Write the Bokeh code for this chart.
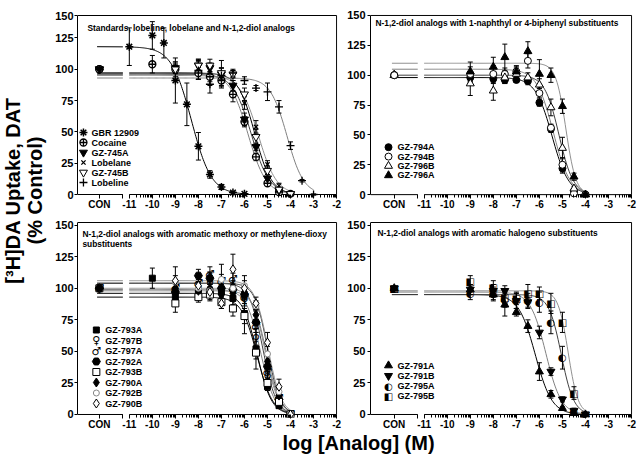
import numpy as np
from bokeh.plotting import figure
from bokeh.models import Range1d, FixedTicker, CustomJSTickFormatter, Label
from bokeh.layouts import row, column
from bokeh.embed import file_html
from bokeh.resources import INLINE
from bokeh.core.properties import value

# ======================= DATA =======================
CON = "CON"   # control (no analog)

# --- Panel A ---
A_TITLE = ["Standards, lobeline, lobelane and N-1,2-diol analogs"]
A_NAMES = ["GBR 12909", "Cocaine", "GZ-745A", "Lobelane", "GZ-745B", "Lobeline"]
A_X = [
    [CON, -11, -10, -9.5, -9, -8.5, -8, -7.5, -7, -6.5, -6],
    [CON, -10, -9, -8, -7.5, -7, -6.5, -6, -5.5, -5, -4.5, -4],
    [CON, -9, -8, -7.5, -7, -6.5, -6, -5.5, -5, -4.5, -4],
    [CON, -9, -8, -7.5, -7, -6.5, -6, -5.5, -5, -4.5, -4],
    [CON, -9, -8, -7.5, -7, -6.5, -6, -5.5, -5, -4.5, -4],
    [CON, -8, -7.5, -7, -6.5, -6, -5.5, -5, -4.5, -4, -3.5, -3],
]
A_Y = [
    [100, 118, 127, 121, 91, 72, 38.5, 16, 6, 1.5, 0.5],
    [100, 104, 100, 97, 94, 91, 80, 58, 30, 9, 2, 0.5],
    [100, 101, 103, 101, 96, 87, 60, 38, 13, 3, 0.5],
    [100, 98, 100, 97, 93, 95, 73, 54, 24, 7, 0.5],
    [100, 100, 103, 103, 97, 96, 80, 46, 19, 4, 0.5],
    [100, 99, 88, 95, 97, 91, 85, 82, 70, 39, 11, 0],
]
A_ERR = [
    [1, 15, 11, 12, 18, 17, 11, 3, 2, 1, 0.5],
    [1, 7, 3, 5, 7, 5, 6, 4, 3, 2, 1, 0.5],
    [1, 4, 4, 4, 5, 4, 5, 3, 3, 1, 0.5],
    [1, 6, 8, 7, 8, 4, 5, 5, 3, 2, 0.5],
    [1, 6, 5, 5, 10, 3, 5, 6, 3, 1, 0.5],
    [1, 7, 7, 6, 3, 3, 2, 7, 5, 3, 1, 0.5],
]
A_TOP = [118, 97, 96, 95, 97, 93]
A_LOGIC50 = [-8.3, -5.85, -5.7, -5.4, -5.55, -4.15]
A_HILL = [1.0, 1.1, 1.1, 1.1, 1.2, 1.2]

# --- Panel B ---
B_TITLE = ["N-1,2-diol analogs with 1-naphthyl or 4-biphenyl substituents"]
B_NAMES = ["GZ-794A", "GZ-794B", "GZ-796B", "GZ-796A"]
B_XS = [CON, -9, -8, -7.5, -7, -6.5, -6, -5.5, -5, -4.5, -4]
B_X = [B_XS, B_XS, B_XS, B_XS]
B_Y = [
    [100, 98, 97, 96, 96, 95, 77, 55, 22, 3, 0],
    [100, 101, 101, 101, 103, 112, 85, 56, 25, 1, 0],
    [100, 93, 87, 98, 101, 98, 92, 73, 39, 5, 0],
    [100, 103, 107, 115, 103, 120, 101, 100, 74, 15, 0],
]
B_ERR = [
    [1, 4, 4, 3, 2, 3, 3, 3, 4, 1, 0.5],
    [1, 6, 7, 5, 4, 6, 4, 3, 6, 1, 0.5],
    [1, 10, 8, 5, 5, 4, 5, 7, 9, 2, 0.5],
    [1, 8, 8, 11, 5, 8, 12, 6, 6, 3, 0.5],
]
B_TOP = [98, 105, 100, 110]
B_LOGIC50 = [-5.45, -5.4, -5.15, -4.85]
B_HILL = [1.2, 1.2, 1.4, 2.0]

# --- Panel C ---
C_TITLE = ["N-1,2-diol analogs with aromatic methoxy or methylene-dioxy", "substituents"]
C_NAMES = ["GZ-793A", "GZ-797B", "GZ-797A", "GZ-792A", "GZ-793B", "GZ-790A", "GZ-792B", "GZ-790B"]
C_XS = [CON, -9, -8, -7.5, -7, -6.5, -6, -5.5, -5, -4.5, -4]
C_X = [[CON, -10, -9, -8, -7.5, -7, -6.5, -6, -5.5, -5, -4.5, -4]] + [C_XS] * 7
C_Y = [
    [100, 108, 93, 96, 97, 97, 92, 80, 52, 22, 7, 0],
    [100, 98, 100, 104, 98, 96, 90, 60, 29, 8, 0],
    [100, 100, 104, 111, 105, 107, 93, 70, 33, 13, 0],
    [100, 97, 110, 108, 100, 99, 95, 73, 38, 12, 0],
    [100, 88, 93, 95, 89, 84, 78, 49, 25, 10, 0],
    [100, 100, 98, 100, 95, 96, 97, 79, 42, 15, 0],
    [100, 105, 100, 98, 107, 100, 102, 86, 48, 18, 0],
    [100, 106, 102, 97, 88, 115, 100, 88, 57, 22, 0],
]
C_ERR = [
    [1, 8, 5, 4, 4, 4, 5, 16, 16, 3, 2, 0.5],
    [1, 5, 5, 8, 5, 5, 4, 5, 4, 2, 0.5],
    [1, 5, 5, 6, 6, 5, 5, 5, 5, 3, 0.5],
    [1, 4, 5, 5, 6, 5, 4, 5, 4, 3, 0.5],
    [1, 7, 4, 5, 5, 6, 6, 5, 4, 2, 0.5],
    [1, 5, 5, 6, 4, 6, 5, 4, 5, 3, 0.5],
    [1, 5, 5, 5, 12, 6, 8, 4, 6, 3, 0.5],
    [1, 11, 5, 6, 4, 12, 6, 5, 8, 6, 0.5],
]
C_TOP = [96, 99, 104, 100, 93, 98, 104, 106]
C_LOGIC50 = [-5.45, -5.3, -5.2, -5.1, -5.45, -5.05, -5.0, -4.98]
C_HILL = [1.4, 1.4, 1.5, 1.5, 1.3, 1.5, 1.6, 1.5]

# --- Panel D ---
D_TITLE = ["N-1,2-diol analogs with aromatic halogeno substituents"]
D_NAMES = ["GZ-791A", "GZ-791B", "GZ-795A", "GZ-795B"]
D_XS = [CON, -9, -8, -7.5, -7, -6.5, -6, -5.5, -5, -4.5, -4]
D_X = [D_XS, D_XS, D_XS, D_XS]
D_Y = [
    [100, 99, 95, 87, 81, 70, 34, 16, 5, 1, 0],
    [100, 99, 98, 98, 90, 89, 65, 34, 12, 3, 0],
    [100, 96, 96, 91, 90, 90, 89, 73, 45, 2, 0],
    [100, 105, 101, 93, 92, 96, 96, 88, 73, 17, 0],
]
D_ERR = [
    [1, 4, 5, 9, 3, 5, 7, 3, 1, 1, 0.5],
    [1, 4, 5, 4, 6, 4, 5, 3, 2, 2, 0.5],
    [1, 5, 5, 6, 6, 6, 8, 9, 9, 1, 0.5],
    [1, 5, 5, 5, 5, 7, 5, 8, 8, 5, 0.5],
]
D_TOP = [95, 97, 95, 98]
D_LOGIC50 = [-6.18, -5.72, -5.05, -4.75]
D_HILL = [1.2, 1.3, 1.6, 2.0]

Y_TICKS = [0, 25, 50, 75, 100, 125, 150]
X_TICKS = [-11, -10, -9, -8, -7, -6, -5, -4, -3, -2]

# ======================= STYLE / LAYOUT =======================
FONT = "Liberation Sans"
SYM_FONT = "DejaVu Sans"

CON_X = -12.3      # axis position of the control category
BREAK_LO = -11.28  # end of control segment of the broken axis
BREAK_HI = -11.0   # start of log segment
X_MAX = -2.0
X_HI = -1.96

STYLES = {
    "GBR 12909": dict(marker="asterisk", size=8, fill=None, line="black", lw=1.5),
    "Cocaine": dict(marker="circle_cross", size=7, fill="white", line="black", lw=1.3),
    "GZ-745A": dict(marker="inverted_triangle", size=8, fill="black", line="black", lw=1),
    "Lobelane": dict(marker="x", size=6, fill=None, line="black", lw=1.3),
    "GZ-745B": dict(marker="inverted_triangle", size=8, fill="white", line="black", lw=1),
    "Lobeline": dict(marker="cross", size=8, fill=None, line="black", lw=1.3),
    "GZ-794A": dict(marker="circle", size=7, fill="black", line="black", lw=1),
    "GZ-794B": dict(marker="circle", size=7, fill="white", line="black", lw=1),
    "GZ-796B": dict(marker="triangle", size=8, fill="white", line="black", lw=1),
    "GZ-796A": dict(marker="triangle", size=8, fill="black", line="black", lw=1),
    "GZ-793A": dict(marker="square", size=6, fill="black", line="black", lw=1),
    "GZ-797B": dict(char="\u2640", size="11px"),
    "GZ-797A": dict(char="\u2642", size="11px"),
    "GZ-792A": dict(marker="hex", size=8, fill="black", line="black", lw=1),
    "GZ-793B": dict(marker="square", size=7, fill="white", line="black", lw=1),
    "GZ-790A": dict(marker="diamond", size=9, fill="black", line="black", lw=1),
    "GZ-792B": dict(marker="circle", size=6, fill="white", line="#888888", lw=1),
    "GZ-790B": dict(marker="diamond", size=9, fill="white", line="black", lw=1),
    "GZ-791A": dict(marker="triangle", size=8, fill="black", line="black", lw=1),
    "GZ-791B": dict(marker="inverted_triangle", size=8, fill="black", line="black", lw=1),
    "GZ-795A": dict(char="\u25D0", size="10px"),
    "GZ-795B": dict(char="\u25E7", size="10px"),
}
CURVE_COLORS = ["#000000", "#808080", "#404040", "#909090"]
TITLE_SIZE = "8.4px"

# pixel geometry (page origin at the top-left of the image)
CFG = {
    "A": dict(w=290, h=216, mbl=23, mbr=5, mbt=14, mbb=19, ystand=1, xmin=-13.25, ytop=142.9, ylo=-2.395,
              yhi=143.7, tick_top=142.9, title_x=10, title_y=[170], lg_gx=6, lg_tx=14, lg_y0=65, lg_dy=10,
              con_top=["Cocaine", "GZ-745A"]),
    "B": dict(w=298, h=216, mbl=28, mbr=8, mbt=6, mbb=19, ystand=2, xmin=-13.33, ytop=150.0, ylo=-2.406,
              yhi=150.8, tick_top=150, title_x=5, title_y=[182.5], lg_gx=18, lg_tx=27, lg_y0=52.5,
              lg_dy=9.8, con_top=["GZ-796B", "GZ-794B"]),
    "C": dict(w=290, h=217, mbl=23, mbr=5, mbt=5, mbb=16, ystand=1, xmin=-13.25, ytop=152.1, ylo=-2.377,
              yhi=152.9, tick_top=150, title_x=5, title_y=[184, 174], lg_gx=19, lg_tx=28, lg_y0=87.5,
              lg_dy=10.5, con_top=["GZ-792A"]),
    "D": dict(w=298, h=217, mbl=28, mbr=8, mbt=5, mbb=16, ystand=2, xmin=-13.33, ytop=152.1, ylo=-2.377,
              yhi=152.9, tick_top=150, title_x=7, title_y=[185], lg_gx=18, lg_tx=27, lg_y0=52, lg_dy=10.3,
              con_top=["GZ-795B"]),
}


def hill_curve(xs, top, logic50, slope):
    xs = np.asarray(xs, dtype=float)
    return top / (1.0 + 10.0 ** ((xs - logic50) * slope))


def draw_marks(p, name, xs, ys, **kw):
    st = STYLES[name]
    if "char" in st:
        p.text(x=xs, y=ys, text=[st["char"]] * len(xs), text_align="center", text_baseline="middle",
               text_font=value(SYM_FONT), text_font_size=st["size"], text_color="black", **kw)
    else:
        p.scatter(x=xs, y=ys, marker=st["marker"], size=st["size"], fill_color=st["fill"],
                  line_color=st["line"], line_width=st["lw"], **kw)


def make_panel(key, title, names, X, Y, ERR, TOP, IC, HILL):
    c = CFG[key]
    p = figure(width=c["w"], height=c["h"], x_range=Range1d(c["xmin"], X_HI),
               y_range=Range1d(c["ylo"], c["yhi"]), output_backend="svg", toolbar_location=None,
               min_border_left=c["mbl"], min_border_right=c["mbr"],
               min_border_top=c["mbt"], min_border_bottom=c["mbb"])
    fw = c["w"] - c["mbl"] - c["mbr"]
    fh = c["h"] - c["mbt"] - c["mbb"]
    p.extra_x_ranges = {"px": Range1d(0, fw)}
    p.extra_y_ranges = {"px": Range1d(0, fh)}
    p.grid.visible = False
    p.outline_line_color = None
    p.background_fill_color = "white"
    p.border_fill_color = "white"

    # ---- axes ----
    xa = p.xaxis[0]
    minor = [d + np.log10(k) for d in range(-11, -2) for k in range(2, 10)]
    xa.ticker = FixedTicker(ticks=[CON_X, BREAK_LO] + X_TICKS, minor_ticks=minor)
    xa.formatter = CustomJSTickFormatter(
        code="if (tick < -12) { return 'CON'; } if (tick < -11.1) { return ''; } return tick.toFixed(0);")
    xa.axis_line_color = None
    xa.major_tick_line_color = "black"
    xa.major_tick_in = 3
    xa.major_tick_out = 1
    xa.minor_tick_line_color = "black"
    xa.minor_tick_in = 3
    xa.minor_tick_out = 0
    xa.major_label_standoff = 0
    xa.major_label_text_font = FONT
    xa.major_label_text_font_size = "10px"
    xa.major_label_text_font_style = "bold"
    xa.major_label_text_color = "black"

    ya = p.yaxis[0]
    ya.bounds = (0, c["ytop"])
    ya.ticker = FixedTicker(ticks=Y_TICKS[:-1] + [c["tick_top"]])
    ya.formatter = CustomJSTickFormatter(code="return tick > 140 ? '150' : tick.toFixed(0);")
    ya.axis_line_color = "black"
    ya.major_tick_out = 3
    ya.major_tick_in = 0
    ya.minor_tick_line_color = None
    ya.major_label_standoff = c["ystand"]
    ya.major_label_text_font = FONT
    ya.major_label_text_font_size = "11px"
    ya.major_label_text_font_style = "bold"
    ya.major_label_text_color = "black"

    # broken x-axis line and box (top / right)
    p.segment(x0=[c["xmin"], BREAK_HI], x1=[BREAK_LO, X_MAX], y0=[0, 0], y1=[0, 0],
              line_color="black", line_width=1)
    p.segment(x0=[c["xmin"], X_MAX], x1=[X_MAX, X_MAX], y0=[c["ytop"], 0], y1=[c["ytop"], c["ytop"]],
              line_color="black", line_width=1)

    # ---- fitted curves ----
    for i, name in enumerate(names):
        logs = [v for v in X[i] if v != CON]
        grid = np.linspace(BREAK_HI, max(logs), 160)
        col = CURVE_COLORS[i % len(CURVE_COLORS)]
        p.line(grid, hill_curve(grid, TOP[i], IC[i], HILL[i]), line_color=col, line_width=1)
        left = np.array([CON_X - 0.1, BREAK_LO])
        p.line(left, hill_curve(left, TOP[i], IC[i], HILL[i]), line_color=col, line_width=1)

    # ---- error bars ----
    for i, name in enumerate(names):
        xs = [CON_X if v == CON else v for v in X[i]]
        lo = [y - e for y, e in zip(Y[i], ERR[i])]
        hi = [y + e for y, e in zip(Y[i], ERR[i])]
        p.segment(x0=xs, x1=xs, y0=lo, y1=hi, line_color="black", line_width=1)
        p.scatter(x=xs + xs, y=lo + hi, marker="dash", size=5, line_color="black", line_width=1)

    # ---- data points ----
    for i, name in enumerate(names):
        xs = [CON_X if v == CON else v for v in X[i]]
        draw_marks(p, name, xs, Y[i])
    # control points that end up on top of the overlapping stack
    for name in c["con_top"]:
        i = names.index(name)
        draw_marks(p, name, [CON_X], [Y[i][X[i].index(CON)]])

    # ---- legend (frame-pixel coordinates) ----
    rows = [c["lg_y0"] - k * c["lg_dy"] for k in range(len(names))]
    for k, name in enumerate(names):
        draw_marks(p, name, [c["lg_gx"]], [rows[k]], x_range_name="px", y_range_name="px")
    p.text(x=[c["lg_tx"]] * len(names), y=rows, text=names, x_range_name="px", y_range_name="px",
           text_font=value(FONT), text_font_size="9px", text_font_style="bold",
           text_baseline="middle", text_align="left", text_color="black")

    # ---- title ----
    for line, ty in zip(title, c["title_y"]):
        p.add_layout(Label(x=c["title_x"], y=ty, x_range_name="px", y_range_name="px", text=line,
                           text_font=FONT, text_font_size=TITLE_SIZE, text_font_style="bold",
                           text_baseline="middle", text_color="black"))
    return p


pA = make_panel("A", A_TITLE, A_NAMES, A_X, A_Y, A_ERR, A_TOP, A_LOGIC50, A_HILL)
pB = make_panel("B", B_TITLE, B_NAMES, B_X, B_Y, B_ERR, B_TOP, B_LOGIC50, B_HILL)
pC = make_panel("C", C_TITLE, C_NAMES, C_X, C_Y, C_ERR, C_TOP, C_LOGIC50, C_HILL)
pD = make_panel("D", D_TITLE, D_NAMES, D_X, D_Y, D_ERR, D_TOP, D_LOGIC50, D_HILL)

# ---- shared axis titles ----
YL_W, TOT_H = 52, 464
ylab = figure(width=YL_W, height=TOT_H, x_range=Range1d(0, YL_W), y_range=Range1d(0, TOT_H),
              x_axis_type=None, y_axis_type=None, output_backend="svg", toolbar_location=None,
              min_border=0)
ylab.grid.visible = False
ylab.outline_line_color = None
for txt, lx in (("[\u00b3H]DA Uptake, DAT", 12), ("(% Control)", 34)):
    ylab.add_layout(Label(x=lx, y=274, text=txt, angle=np.pi / 2, text_align="center",
                          text_baseline="middle", text_font=FONT, text_font_size="20px",
                          text_font_style="bold", text_color="black"))

XL_W, XL_H = 588, 31
xlab = figure(width=XL_W, height=XL_H, x_range=Range1d(0, XL_W), y_range=Range1d(0, XL_H),
              x_axis_type=None, y_axis_type=None, output_backend="svg", toolbar_location=None,
              min_border=0)
xlab.grid.visible = False
xlab.outline_line_color = None
xlab.add_layout(Label(x=306, y=22, text="log [Analog] (M)", text_align="center", text_baseline="middle",
                      text_font=FONT, text_font_size="20px", text_font_style="bold", text_color="black"))

layout = row(ylab, column(row(pA, pB), row(pC, pD), xlab))

with open("out.html", "w") as f:
    f.write(file_html(layout, INLINE))
